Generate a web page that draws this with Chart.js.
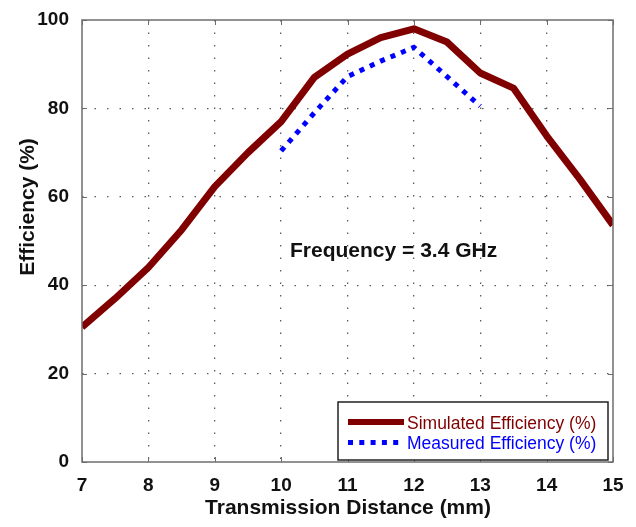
<!DOCTYPE html>
<html>
<head>
<meta charset="utf-8">
<script src="https://cdn.jsdelivr.net/npm/chart.js@4.4.1/dist/chart.umd.min.js"></script>
<style>
  html, body { margin: 0; padding: 0; background: #fff; }
  canvas { display: block; }
</style>
</head>
<body>
<canvas id="effChart" width="636" height="527"></canvas>
<script>
// Data
const simDistance = [7, 7.5, 8, 8.5, 9, 9.5, 10, 10.5, 11, 11.5, 12, 12.5, 13, 13.5, 14, 14.5, 15];
const simEfficiency = [30.5, 37, 44, 52.5, 62.3, 70, 77, 87, 92.3, 96, 98, 95, 88, 84.6, 73.8, 64, 53.6];
const measDistance = [10, 10.5, 11, 11.5, 12, 12.5, 13];
const measEfficiency = [70.4, 79, 87.2, 90.7, 93.8, 87.2, 80.5];

const xTicks = [7, 8, 9, 10, 11, 12, 13, 14, 15];
const yTicks = [0, 20, 40, 60, 80, 100];

const xTitle = 'Transmission Distance (mm)';
const yTitle = 'Efficiency (%)';
const noteText = 'Frequency = 3.4 GHz';

const simColor = '#800000';
const measColor = '#0000ff';
const axisColor = '#6e6e6e';
const gridColor = '#5a5a5a';

function toPoints(xs, ys) {
    return xs.map((x, i) => ({ x: x, y: ys[i] }));
}

// Axes box, inward ticks, annotation, legend, titles
const matlabLook = {
    id: 'matlabLook',
    afterDatasetsDraw(chart) {
        const { ctx, chartArea: a, scales: { x, y } } = chart;
        ctx.save();

        // box
        ctx.strokeStyle = axisColor;
        ctx.lineWidth = 1.5;
        ctx.strokeRect(a.left, a.top, a.right - a.left, a.bottom - a.top);

        // inward ticks on all four sides
        ctx.lineWidth = 1;
        ctx.beginPath();
        xTicks.forEach(v => {
            const px = Math.round(x.getPixelForValue(v)) + 0.5;
            ctx.moveTo(px, a.bottom); ctx.lineTo(px, a.bottom - 5);
            ctx.moveTo(px, a.top); ctx.lineTo(px, a.top + 5);
        });
        yTicks.forEach(v => {
            const py = Math.round(y.getPixelForValue(v)) + 0.5;
            ctx.moveTo(a.left, py); ctx.lineTo(a.left + 5, py);
            ctx.moveTo(a.right, py); ctx.lineTo(a.right - 5, py);
        });
        ctx.stroke();

        // annotation
        ctx.fillStyle = '#111';
        ctx.font = 'bold 21px "Liberation Sans", Arial, sans-serif';
        ctx.textBaseline = 'alphabetic';
        ctx.textAlign = 'left';
        ctx.fillText(noteText, 290, 257);

        // legend
        const lx = 338, ly = 402, lw = 270, lh = 58;
        ctx.fillStyle = '#fff';
        ctx.fillRect(lx, ly, lw, lh);
        ctx.strokeStyle = '#222';
        ctx.lineWidth = 1.5;
        ctx.strokeRect(lx, ly, lw, lh);

        const items = chart.data.datasets;
        ctx.font = '17.5px "Liberation Sans", Arial, sans-serif';
        items.forEach((ds, i) => {
            const cy = 422 + i * 20.5;
            ctx.strokeStyle = ds.borderColor;
            ctx.lineWidth = i === 0 ? 6 : 5;
            ctx.lineCap = 'butt';
            ctx.setLineDash(ds.borderDash || []);
            ctx.beginPath();
            ctx.moveTo(348, cy);
            ctx.lineTo(404, cy);
            ctx.stroke();
            ctx.setLineDash([]);
            ctx.fillStyle = ds.borderColor;
            ctx.fillText(ds.label, 407, cy + 6.5);
        });

        ctx.restore();
    },
    afterDraw(chart) {
        const { ctx } = chart;
        ctx.save();
        ctx.fillStyle = '#111';
        ctx.font = 'bold 21px "Liberation Sans", Arial, sans-serif';
        ctx.textAlign = 'center';
        ctx.textBaseline = 'alphabetic';
        ctx.fillText(xTitle, 348, 514);
        ctx.translate(34, 207);
        ctx.rotate(-Math.PI / 2);
        ctx.fillText(yTitle, 0, 0);
        ctx.restore();
    }
};

const chart = new Chart(document.getElementById('effChart').getContext('2d'), {
    type: 'line',
    data: {
        datasets: [{
            label: 'Simulated Efficiency (%)',
            data: toPoints(simDistance, simEfficiency),
            borderColor: simColor,
            borderWidth: 7,
            borderJoinStyle: 'round',
            borderCapStyle: 'butt',
            pointRadius: 0,
            tension: 0,
            fill: false
        }, {
            label: 'Measured Efficiency (%)',
            data: toPoints(measDistance, measEfficiency),
            borderColor: measColor,
            borderWidth: 5,
            borderDash: [5, 6.3],
            borderCapStyle: 'butt',
            pointRadius: 0,
            tension: 0,
            fill: false
        }]
    },
    options: {
        responsive: false,
        animation: false,
        layout: { padding: { top: 20, right: 23, left: 0, bottom: 0 } },
        plugins: {
            legend: { display: false },
            tooltip: { enabled: false }
        },
        scales: {
            x: {
                type: 'linear',
                min: 7,
                max: 15,
                afterFit: s => { s.height = 65; s.paddingLeft = 0; s.paddingRight = 0; },
                afterBuildTicks: s => { s.ticks = xTicks.map(v => ({ value: v })); },
                ticks: {
                    color: '#111',
                    padding: 12,
                    font: { family: '"Liberation Sans", Arial, sans-serif', size: 19, weight: 'bold' }
                },
                grid: {
                    drawTicks: false,
                    lineWidth: 1.3,
                    color: c => (c.tick && (c.tick.value === 7 || c.tick.value === 15)) ? 'rgba(0,0,0,0)' : gridColor
                },
                border: { display: false, dash: [1.5, 11] }
            },
            y: {
                min: 0,
                max: 100,
                afterFit: s => { s.width = 82; s.paddingTop = 0; s.paddingBottom = 0; },
                afterBuildTicks: s => { s.ticks = yTicks.map(v => ({ value: v })); },
                ticks: {
                    color: '#111',
                    padding: 13,
                    font: { family: '"Liberation Sans", Arial, sans-serif', size: 19, weight: 'bold' }
                },
                grid: {
                    drawTicks: false,
                    lineWidth: 1.3,
                    color: c => (c.tick && (c.tick.value === 0 || c.tick.value === 100)) ? 'rgba(0,0,0,0)' : gridColor
                },
                border: { display: false, dash: [1.5, 11] }
            }
        }
    },
    plugins: [matlabLook]
});
</script>
</body>
</html>
